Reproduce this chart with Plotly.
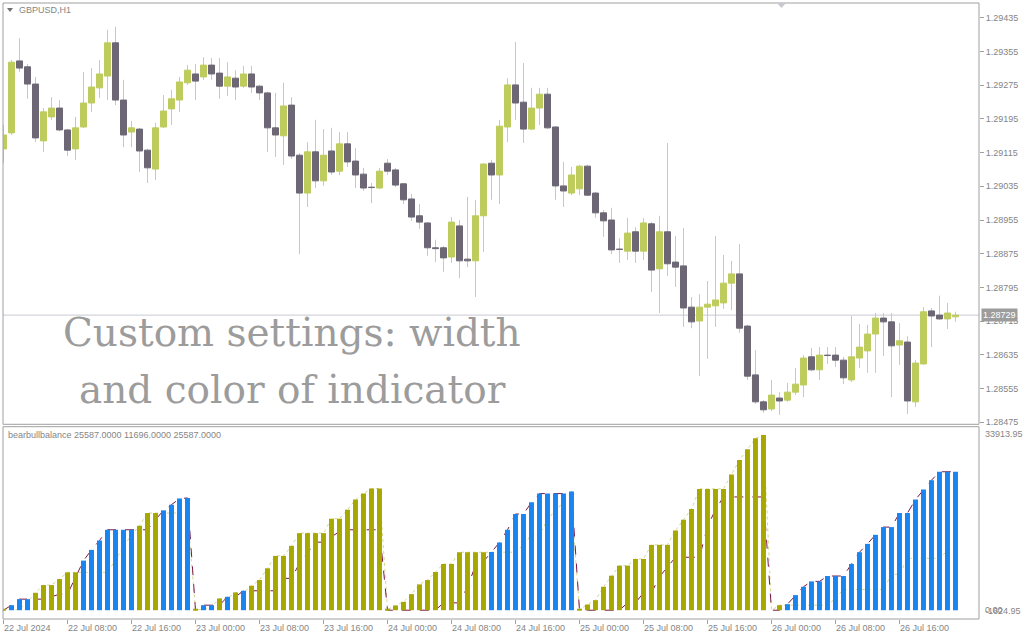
import plotly.graph_objects as go
import pandas as pd

# ---------------- data ----------------
bar_times = list(pd.date_range("2024-07-22 00:00", periods=120, freq="h"))

open_ = [1.29124, 1.29162, 1.29333, 1.29319, 1.29278, 1.29143, 1.29200, 1.29221, 1.29169, 1.29124,
         1.29176, 1.29233, 1.29269, 1.29297, 1.29376, 1.29240, 1.29164, 1.29171, 1.29121, 1.29076,
         1.29176, 1.29219, 1.29240, 1.29281, 1.29302, 1.29295, 1.29323, 1.29304, 1.29273, 1.29292,
         1.29273, 1.29302, 1.29273, 1.29257, 1.29174, 1.29155, 1.29228, 1.29109, 1.29019, 1.29117,
         1.29048, 1.29119, 1.29071, 1.29136, 1.29095, 1.29064, 1.29033, 1.29031, 1.29090, 1.29074,
         1.29041, 1.29005, 1.28965, 1.28948, 1.28889, 1.28889, 1.28867, 1.28941, 1.28862, 1.28858,
         1.28965, 1.29090, 1.29062, 1.29176, 1.29276, 1.29235, 1.29171, 1.29221, 1.29254, 1.29176,
         1.29036, 1.29019, 1.29029, 1.29083, 1.29019, 1.28972, 1.28955, 1.28886, 1.28881, 1.28927,
         1.28881, 1.28946, 1.28839, 1.28927, 1.28855, 1.28846, 1.28748, 1.28715, 1.28748, 1.28751,
         1.28758, 1.28805, 1.28827, 1.28703, 1.28587, 1.28523, 1.28506, 1.28532, 1.28527, 1.28546,
         1.28563, 1.28630, 1.28599, 1.28634, 1.28634, 1.28622, 1.28575, 1.28627, 1.28644, 1.28684,
         1.28722, 1.28713, 1.28658, 1.28665, 1.28523, 1.28613, 1.28739, 1.28729, 1.28720, 1.28725]
high = [1.29181, 1.29335, 1.29387, 1.29326, 1.29295, 1.29221, 1.29247, 1.29240, 1.29171, 1.29200,
        1.29307, 1.29316, 1.29335, 1.29407, 1.29414, 1.29288, 1.29190, 1.29174, 1.29124, 1.29186,
        1.29252, 1.29264, 1.29295, 1.29323, 1.29326, 1.29342, 1.29340, 1.29340, 1.29330, 1.29311,
        1.29321, 1.29321, 1.29276, 1.29260, 1.29257, 1.29281, 1.29247, 1.29114, 1.29140, 1.29193,
        1.29171, 1.29174, 1.29164, 1.29164, 1.29126, 1.29079, 1.29043, 1.29079, 1.29100, 1.29079,
        1.29043, 1.29017, 1.28993, 1.28950, 1.28908, 1.28893, 1.28962, 1.28955, 1.29010, 1.29003,
        1.29090, 1.29098, 1.29193, 1.29292, 1.29378, 1.29328, 1.29269, 1.29269, 1.29269, 1.29178,
        1.29093, 1.29081, 1.29086, 1.29086, 1.29022, 1.28979, 1.28984, 1.28912, 1.28960, 1.28938,
        1.28960, 1.28950, 1.28965, 1.29138, 1.28917, 1.28936, 1.28772, 1.28779, 1.28810, 1.28917,
        1.28872, 1.28858, 1.28898, 1.28706, 1.28646, 1.28527, 1.28575, 1.28546, 1.28568, 1.28603,
        1.28634, 1.28651, 1.28653, 1.28653, 1.28653, 1.28630, 1.28727, 1.28708, 1.28706, 1.28734,
        1.28734, 1.28734, 1.28710, 1.28679, 1.28622, 1.28748, 1.28746, 1.28775, 1.28758, 1.28737]
low = [1.29090, 1.29157, 1.29307, 1.29243, 1.29140, 1.29117, 1.29193, 1.29166, 1.29107, 1.29098,
       1.29174, 1.29212, 1.29245, 1.29240, 1.29228, 1.29128, 1.29128, 1.29069, 1.29043, 1.29050,
       1.29174, 1.29181, 1.29212, 1.29276, 1.29240, 1.29288, 1.29288, 1.29243, 1.29250, 1.29240,
       1.29269, 1.29257, 1.29240, 1.29117, 1.29105, 1.29086, 1.29100, 1.28874, 1.28986, 1.29031,
       1.29036, 1.29062, 1.29062, 1.29081, 1.29031, 1.29024, 1.28995, 1.29029, 1.29062, 1.29033,
       1.28993, 1.28953, 1.28934, 1.28870, 1.28855, 1.28832, 1.28853, 1.28817, 1.28843, 1.28772,
       1.28879, 1.29003, 1.28993, 1.29140, 1.29193, 1.29138, 1.29169, 1.29181, 1.29171, 1.29003,
       1.28986, 1.29014, 1.29014, 1.29012, 1.28960, 1.28915, 1.28874, 1.28853, 1.28860, 1.28853,
       1.28860, 1.28784, 1.28734, 1.28822, 1.28796, 1.28701, 1.28698, 1.28584, 1.28625, 1.28701,
       1.28744, 1.28741, 1.28687, 1.28575, 1.28518, 1.28497, 1.28501, 1.28492, 1.28523, 1.28539,
       1.28534, 1.28596, 1.28575, 1.28613, 1.28606, 1.28565, 1.28570, 1.28603, 1.28592, 1.28592,
       1.28632, 1.28534, 1.28611, 1.28494, 1.28511, 1.28611, 1.28653, 1.28717, 1.28696, 1.28713]
close = [1.29157, 1.29330, 1.29316, 1.29278, 1.29150, 1.29212, 1.29221, 1.29169, 1.29121, 1.29174,
         1.29233, 1.29271, 1.29302, 1.29376, 1.29240, 1.29157, 1.29174, 1.29119, 1.29079, 1.29174,
         1.29214, 1.29243, 1.29283, 1.29311, 1.29285, 1.29323, 1.29302, 1.29273, 1.29295, 1.29271,
         1.29302, 1.29271, 1.29257, 1.29174, 1.29157, 1.29226, 1.29107, 1.29019, 1.29117, 1.29048,
         1.29109, 1.29069, 1.29136, 1.29093, 1.29062, 1.29031, 1.29032, 1.29071, 1.29071, 1.29038,
         1.29003, 1.28962, 1.28950, 1.28889, 1.28887, 1.28865, 1.28950, 1.28858, 1.28858, 1.28965,
         1.29088, 1.29062, 1.29178, 1.29276, 1.29233, 1.29171, 1.29221, 1.29254, 1.29174, 1.29036,
         1.29024, 1.29062, 1.29083, 1.29014, 1.28972, 1.28953, 1.28884, 1.28885, 1.28924, 1.28881,
         1.28948, 1.28836, 1.28927, 1.28851, 1.28843, 1.28746, 1.28713, 1.28748, 1.28755, 1.28765,
         1.28805, 1.28827, 1.28698, 1.28584, 1.28523, 1.28504, 1.28539, 1.28525, 1.28546, 1.28565,
         1.28627, 1.28599, 1.28634, 1.28633, 1.28622, 1.28580, 1.28630, 1.28653, 1.28684, 1.28722,
         1.28713, 1.28656, 1.28668, 1.28525, 1.28615, 1.28737, 1.28727, 1.28720, 1.28734, 1.28729]

# bear/bull balance: two daily cumulative series (blue one and olive one)
blue_series = [0, 929, 2044, 2044, 2044, 2044, 2477, 2973, 2973, 6193,
               9166, 11147, 12881, 14863, 14863, 14863, 14863, 14863, 14863, 16721,
               18455, 19508, 20623, 20747, 0, 929, 929, 929, 2477, 2477,
               3592, 3592, 3592, 3592, 3592, 5883, 5883, 8670, 10528, 12572,
               12572, 13625, 14554, 14863, 14863, 14863, 14863, 14863, 0, 0,
               0, 0, 0, 0, 0, 1362, 1362, 1362, 4335, 8237,
               9000, 10760, 12510, 14863, 17774, 17774, 19941, 21552, 21552, 21552,
               21552, 21923, 0, 0, 0, 0, 0, 0, 1362, 1362,
               3220, 3220, 6193, 8051, 9785, 9785, 9785, 9785, 15483, 18579,
               20932, 20932, 20932, 20932, 20932, 20932, 0, 0, 1115, 2787,
               4335, 5326, 5326, 6317, 6317, 6317, 8546, 10714, 12262, 13934,
               15359, 15359, 17960, 17960, 20437, 22295, 24029, 25587, 25587, 25587]
olive_series = [120, 120, 120, 1548, 3220, 4645, 4645, 5759, 6998, 6998,
                6998, 6998, 6998, 6998, 9290, 11767, 13934, 15606, 17960, 17960,
                17960, 17960, 17960, 17960, 100, 100, 600, 2168, 2168, 3282,
                3282, 4521, 5574, 7741, 10033, 10033, 11891, 14244, 14244, 14244,
                14244, 16907, 16907, 18579, 20437, 21552, 22481, 22481, 100, 867,
                1548, 2973, 4769, 5574, 7060, 8546, 8546, 10714, 10714, 10714,
                10714, 10714, 10714, 10714, 10714, 12076, 13934, 13934, 16721, 18579,
                19818, 19818, 100, 1053, 1858, 4335, 6379, 8237, 8237, 9475,
                9475, 12076, 12076, 12076, 14739, 16721, 18703, 22419, 22419, 22419,
                22419, 25082, 27745, 29726, 31770, 32389, 0, 929, 929, 929,
                929, 929, 929, 929, 2200, 3840, 3840, 3840, 3840, 3840,
                3840, 6627, 6627, 9599, 9599, 9599, 9599, 9599, 11000, 11696]

price_ticks = [1.28475, 1.28555, 1.28635, 1.28715, 1.28795, 1.28875, 1.28955,
               1.29035, 1.29115, 1.29195, 1.29275, 1.29355, 1.29435]
price_labels = [f"{p:.5f}" for p in price_ticks]
time_ticks = ["2024-07-22 00:00", "2024-07-22 08:00", "2024-07-22 16:00",
              "2024-07-23 00:00", "2024-07-23 08:00", "2024-07-23 16:00",
              "2024-07-24 00:00", "2024-07-24 08:00", "2024-07-24 16:00",
              "2024-07-25 00:00", "2024-07-25 08:00", "2024-07-25 16:00",
              "2024-07-26 00:00", "2024-07-26 08:00", "2024-07-26 16:00"]
time_labels = ["22 Jul 2024", "22 Jul 08:00", "22 Jul 16:00",
               "23 Jul 00:00", "23 Jul 08:00", "23 Jul 16:00",
               "24 Jul 00:00", "24 Jul 08:00", "24 Jul 16:00",
               "25 Jul 00:00", "25 Jul 08:00", "25 Jul 16:00",
               "26 Jul 00:00", "26 Jul 08:00", "26 Jul 16:00"]
last_price = 1.28729
indicator_title = "bearbullbalance 25587.0000 11696.0000 25587.0000"
ind_max_label, ind_min_label = 33913.95, -1624.95

# ---------------- styling / layout helpers ----------------
W, H = 1024, 640
ML, MR, MT, MB = 3, 45, 3, 21
PW, PH = W - ML - MR, H - MT - MB


def px_x(px):
    return (px - ML) / PW


def px_y(py):
    return (H - MB - py) / PH


BULL, BEAR, WICK = "#BECC5E", "#6D6775", "#C6C6CE"
BLUE, OLIVE = "#1A84F0", "#A6A800"
MAROON, PALE = "#7A1848", "#D6D68A"
TXT = "#858585"
FONT = "Liberation Sans"

pane1_dom = [px_y(424.3), 1.0]
pane2_dom = [0.0, px_y(426.7)]
HOUR = pd.Timedelta(hours=1)
x_range = [bar_times[0] - 0.0625 * HOUR, bar_times[0] + 121.94 * HOUR]
price_range = [1.284696, 1.294706]
ind_range = [ind_min_label, ind_max_label]

fig = go.Figure()

# wicks
wx, wy = [], []
for t, h, l in zip(bar_times, high, low):
    wx += [t, t, None]
    wy += [l, h, None]
fig.add_trace(go.Scatter(x=wx, y=wy, mode="lines", line=dict(color=WICK, width=1),
                         xaxis="x", yaxis="y", hoverinfo="skip"))

# bodies
body_col = [BULL if c > o else BEAR for o, c in zip(open_, close)]
fig.add_trace(go.Bar(x=bar_times, y=[abs(c - o) for o, c in zip(open_, close)],
                     base=[min(o, c) for o, c in zip(open_, close)],
                     width=0.75 * 3600000,
                     marker=dict(color=body_col, line=dict(color=body_col, width=1)),
                     xaxis="x", yaxis="y3", hoverinfo="skip"))

# indicator lines
fig.add_trace(go.Scatter(x=bar_times, y=olive_series, mode="lines",
                         line=dict(color=PALE, width=1, dash="dot"),
                         xaxis="x2", yaxis="y2", hoverinfo="skip"))
fig.add_trace(go.Scatter(x=bar_times, y=blue_series, mode="lines",
                         line=dict(color=MAROON, width=1, dash="dash"),
                         xaxis="x2", yaxis="y2", hoverinfo="skip"))

# indicator histogram
hist = [max(a, b) for a, b in zip(blue_series, olive_series)]
hist_col = [BLUE if a > b else OLIVE for a, b in zip(blue_series, olive_series)]
fig.add_trace(go.Bar(x=bar_times, y=hist, width=0.62 * 3600000,
                     marker=dict(color=hist_col, line=dict(width=0)),
                     xaxis="x2", yaxis="y4", hoverinfo="skip"))

axis_common = dict(showgrid=False, zeroline=False, automargin=False)
fig.update_layout(
    width=W, height=H, autosize=False,
    margin=dict(l=ML, r=MR, t=MT, b=MB, pad=0, autoexpand=False),
    paper_bgcolor="white", plot_bgcolor="white",
    showlegend=False, hovermode=False, barmode="overlay",
    font=dict(family=FONT, size=9, color=TXT),
    xaxis=dict(domain=[0, 1], range=x_range, type="date", anchor="y",
               showticklabels=False, ticks="", **axis_common),
    xaxis2=dict(domain=[0, 1], range=x_range, type="date", anchor="y2", matches="x",
                tickmode="array", tickvals=time_ticks, ticktext=time_labels,
                ticks="outside", ticklen=4, tickcolor="#A0A0A0",
                ticklabelposition="outside right",
                tickfont=dict(family=FONT, size=9, color=TXT), **axis_common),
    yaxis=dict(domain=pane1_dom, range=price_range, side="right", anchor="x",
               tickmode="array", tickvals=price_ticks, ticktext=price_labels,
               ticks="outside", ticklen=4, tickcolor="#A0A0A0",
               tickfont=dict(family=FONT, size=9, color=TXT), **axis_common),
    yaxis2=dict(domain=pane2_dom, range=ind_range, side="right", anchor="x2",
                showticklabels=False, ticks="", **axis_common),
    yaxis3=dict(overlaying="y", range=price_range, anchor="x", visible=False, **axis_common),
    yaxis4=dict(overlaying="y2", range=ind_range, anchor="x2", visible=False, **axis_common),
)

shapes = [
    dict(type="line", xref="paper", yref="y", x0=0, x1=1, y0=last_price, y1=last_price,
         line=dict(color="#CACAD4", width=1), layer="below"),
    dict(type="rect", xref="paper", yref="paper", x0=0, x1=1, y0=pane1_dom[0], y1=1,
         line=dict(color="#A0A0A0", width=1)),
    dict(type="rect", xref="paper", yref="paper", x0=0, x1=1, y0=0, y1=pane2_dom[1],
         line=dict(color="#A0A0A0", width=1)),
    dict(type="path", xref="paper", yref="paper",
         path=f"M {px_x(7)},{px_y(8)} L {px_x(13)},{px_y(8)} L {px_x(10)},{px_y(12)} Z",
         fillcolor="#707070", line=dict(width=0)),
    dict(type="path", xref="paper", yref="paper",
         path=f"M {px_x(777)},{px_y(3)} L {px_x(786)},{px_y(3)} L {px_x(781.5)},{px_y(8)} Z",
         fillcolor="#C8C8D0", line=dict(width=0)),
]
fig.update_layout(shapes=shapes)

ann = [
    dict(text="GBPUSD,H1", xref="paper", yref="paper", x=px_x(17), y=px_y(10),
         xanchor="left", yanchor="middle", showarrow=False,
         font=dict(family=FONT, size=9, color=TXT)),
    dict(text=indicator_title, xref="paper", yref="paper", x=px_x(6), y=px_y(435),
         xanchor="left", yanchor="middle", showarrow=False,
         font=dict(family=FONT, size=9, color=TXT)),
    dict(text=f"{ind_max_label:.2f}", xref="paper", yref="paper", x=px_x(983), y=px_y(434),
         xanchor="left", yanchor="middle", showarrow=False,
         font=dict(family=FONT, size=9, color=TXT)),
    dict(text=f"{ind_min_label:.2f}", xref="paper", yref="paper", x=px_x(983), y=px_y(611),
         xanchor="left", yanchor="middle", showarrow=False,
         font=dict(family=FONT, size=9, color=TXT)),
    dict(text="0.00", xref="paper", yref="y2", x=px_x(983), y=0,
         xanchor="left", yanchor="middle", showarrow=False,
         font=dict(family=FONT, size=9, color=TXT)),
    dict(text=f"{last_price:.5f}", xref="paper", yref="y", x=px_x(981), y=last_price,
         xanchor="left", yanchor="middle", showarrow=False, bgcolor="#9C9C9C",
         borderpad=1, font=dict(family=FONT, size=9, color="white")),
    dict(text="Custom settings: width", xref="paper", yref="paper", x=px_x(292), y=px_y(332),
         xanchor="center", yanchor="middle", showarrow=False,
         font=dict(family="DejaVu Serif", size=39, color="#9C9C9C")),
    dict(text="and color of indicator", xref="paper", yref="paper", x=px_x(292), y=px_y(389),
         xanchor="center", yanchor="middle", showarrow=False,
         font=dict(family="DejaVu Serif", size=39, color="#9C9C9C")),
]
fig.update_layout(annotations=ann)

fig.write_html("out.html", config={"displayModeBar": False},
               post_script="document.body.style.margin='0';")
